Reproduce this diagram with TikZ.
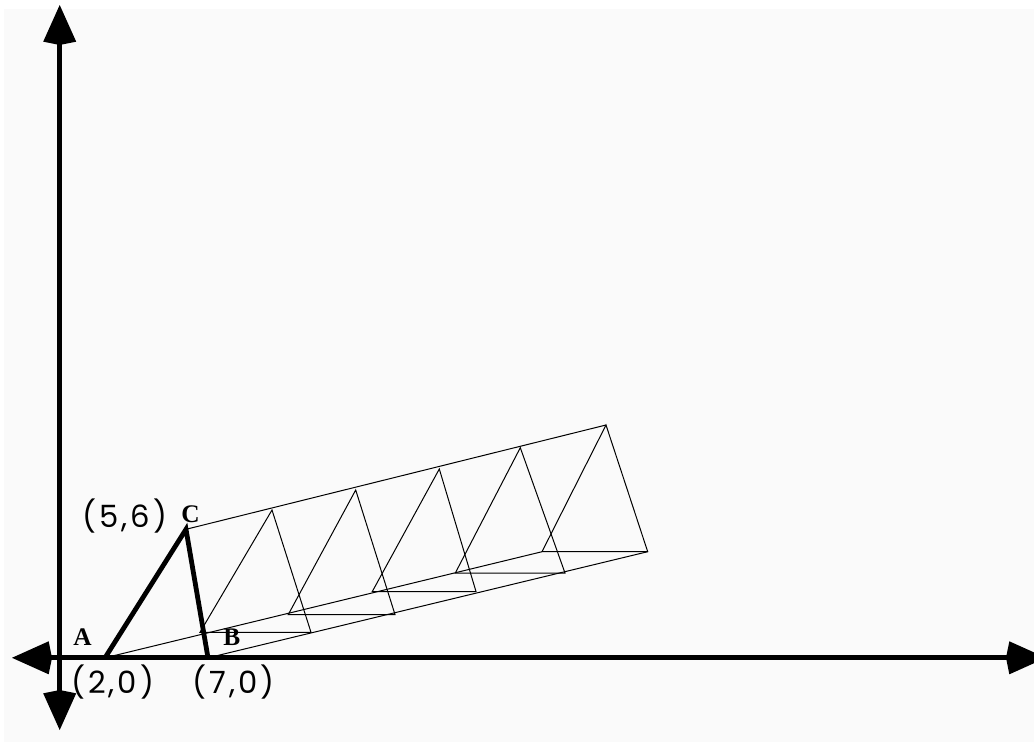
\documentclass[tikz,border=0pt]{standalone}
\usepackage{fontspec}
\setmainfont{Liberation Serif}
\newfontfamily\lblfont[LetterSpace=10]{Poppins}
\usetikzlibrary{arrows.meta}
\definecolor{bgc}{RGB}{250,250,250}
\begin{document}
\begin{tikzpicture}[x=0.75pt,y=-0.75pt,
  axis/.style={line width=3.5pt,
    {Kite[length=30pt,width=24.75pt,inset=2.5pt]}-{Kite[length=30pt,width=24.75pt,inset=2.5pt]}},
  thick tri/.style={line width=3.6pt,line join=miter},
  thin/.style={line width=0.75pt},
  vlabel/.style={inner sep=0pt,font=\fontsize{19}{21}\selectfont\bfseries},
  clabel/.style={inner sep=0pt,font=\lblfont\fontsize{23}{25}\selectfont}]
\useasboundingbox (0,0) rectangle (1034,750);
\clip (0,0) rectangle (1034,750);
\fill[white] (0,0) rectangle (1034,750);
\fill[bgc] (4,9) rectangle (1040,742);
% axes
\coordinate (xl) at (12,657.8);
\coordinate (xr) at (1046,657.8);
\coordinate (yt) at (59.7,5);
\coordinate (yb) at (59.7,730);
\draw[axis] (xl) -- (xr);
\draw[axis] (yb) -- (yt);
% original triangle
\coordinate (A) at (105,657.8);
\coordinate (B) at (208,657.8);
\coordinate (C) at (186,529.3);
% moved triangles
\coordinate (a1) at (272,510);   \coordinate (l1) at (200,632.3); \coordinate (r1) at (311,632.3);
\coordinate (a2) at (355.7,490); \coordinate (l2) at (288.3,614.5); \coordinate (r2) at (395,614.5);
\coordinate (a3) at (439.3,469); \coordinate (l3) at (372.3,591.5); \coordinate (r3) at (476,591.5);
\coordinate (a4) at (520.3,447.7); \coordinate (l4) at (455.3,573); \coordinate (r4) at (565,573);
\coordinate (a5) at (606,425);   \coordinate (l5) at (542,551.7); \coordinate (r5) at (647.7,551.7);
\foreach \i in {1,...,5}{\draw[thin] (l\i) -- (r\i) -- (a\i) -- cycle;}
\draw[thin] (C) -- (a5);
\draw[thin] (A) -- (l5);
\draw[thin] (B) -- (r5);
\draw[thick tri] (A) -- (C) -- (B);
% labels
\node[vlabel] (lA) at (82.5,637) {A};
\node[vlabel] (lB) at (231.7,637) {B};
\node[vlabel] (lC) at (190.5,514.5) {C};
\node[clabel] (cC) at (125,516.5) {(5,6)};
\node[clabel] (cA) at (112.7,681.7) {(2,0)};
\node[clabel] (cB) at (233.3,681.7) {(7,0)};
\end{tikzpicture}
\end{document}
